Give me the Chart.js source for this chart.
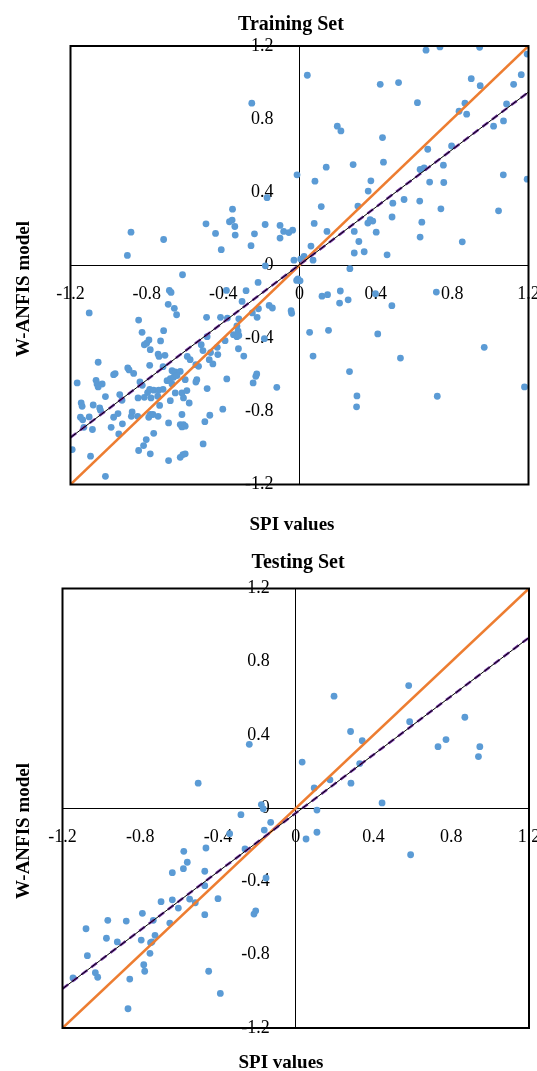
<!DOCTYPE html>
<html><head><meta charset="utf-8">
<script src="https://cdn.jsdelivr.net/npm/chart.js@4.4.1/dist/chart.umd.min.js"></script>
<style>
html,body{margin:0;padding:0;background:#fff;overflow:hidden;width:537px;height:1071px;}
.box{position:absolute;left:0;width:560px;}
</style></head><body>
<div class="box" style="top:0;height:540px"><canvas id="c1"></canvas></div>
<div class="box" style="top:540px;height:531px"><canvas id="c2"></canvas></div>
<script>
// ---- tick values / labels ----
const tickValues = [-1.2, -0.8, -0.4, 0, 0.4, 0.8, 1.2];
const tickLabels = ['-1.2', '-0.8', '-0.4', '0', '0.4', '0.8', '1.2'];

// ---- reference lines ----
const lineX = [-1.2, 1.2];
const trainIdeal = [-1.2, 1.2];
const trainFit = [-0.943, 0.948];
const testIdeal = [-1.2, 1.2];
const testFit = [-0.986, 0.932];

// ---- Training set: SPI values (x) vs W-ANFIS model (y) ----
const trainSpi = [
-0.25,-0.013,-0.17,-0.351,-0.49,-0.367,-0.353,-0.339,-0.44,-0.337,-0.18,-0.236,-0.102,-0.083,-0.056,-0.036,-0.102,-0.254,-0.41,-0.883,-0.712,-0.902,-0.029,-0.179,
0.663,0.736,0.944,1.193,0.041,0.423,0.519,0.9,0.947,1.162,1.122,0.618,0.867,0.836,0.876,1.085,0.198,0.217,1.017,1.069,0.435,0.797,0.672,0.281,0.14,0.44,0.632,0.653,0.754,1.068,1.193,0.081,0.374,0.682,0.756,0.36,0.114,0.306,0.489,0.548,0.63,0.741,1.043,0.077,0.37,0.384,0.358,0.485,0.641,0.144,0.287,0.402,0.311,0.632,0.853,0.06,0.287,0.339,0.459,0.024,0.006,0.071,
0.264,0.003,0.118,0.147,0.214,0.21,0.255,0.398,0.484,0.717,0.053,0.152,0.41,0.071,0.529,0.968,0.262,0.301,0.299,0.722,1.179,
-0.613,-0.682,-0.673,-0.688,-0.656,-0.644,-1.102,-0.843,-0.825,-0.712,-0.789,-0.813,-0.801,-0.728,-0.782,-0.741,-0.736,-0.705,-1.055,-0.785,-0.715,-0.9,-0.893,-0.966,-0.869,-0.668,-0.651,-0.625,
-0.015,-0.383,-0.28,-0.217,-0.301,-0.215,-0.159,-0.142,-0.044,-0.041,-0.247,-0.222,-0.487,-0.414,-0.378,-0.318,-0.328,-0.322,-0.346,-0.328,-0.318,-0.39,-0.484,-0.515,-0.506,-0.431,-0.428,-0.466,-0.473,-0.32,-0.292,-0.184,-0.588,-0.573,-0.543,-0.529,-0.454,-0.224,-0.008,
-0.974,-1.165,-1.066,-1.061,-1.034,-1.055,-1.017,-1.144,-1.139,-1.081,-1.047,-1.043,-1.148,-1.136,-1.102,-1.085,-1.13,-1.191,-1.095,-1.017,-0.987,-0.947,-0.928,-0.974,-0.951,-0.942,-0.93,-0.881,-0.848,-0.877,-0.836,-0.824,-0.846,-0.813,-0.796,-0.785,-0.764,-0.738,-0.715,-0.743,-0.778,-0.733,-0.782,-0.768,-0.741,-0.79,-0.686,-0.764,-0.803,-0.817,-0.843,-0.782,-0.686,-0.625,-0.611,-0.694,-0.677,-0.66,-0.642,-0.668,-0.651,-0.616,-0.608,-0.677,-0.616,-0.608,-0.625,-0.616,
-0.599,-0.538,-0.543,-0.381,-0.229,-0.243,-0.119,-0.59,-0.484,-0.578,-0.402,-0.47,-0.496,-0.599,-0.505,-0.599
];
const trainModel = [
0.887,0.495,0.37,0.307,0.227,0.238,0.247,0.212,0.174,0.165,0.223,0.172,0.218,0.185,0.179,0.192,0.149,0.107,0.085,0.181,0.141,0.054,0.028,-0.003,
1.177,1.195,1.193,1.156,1.04,0.99,1.0,1.021,0.983,1.043,0.99,0.89,0.887,0.843,0.827,0.883,0.761,0.735,0.761,0.79,0.699,0.653,0.635,0.551,0.537,0.564,0.524,0.533,0.548,0.495,0.471,0.46,0.462,0.455,0.453,0.406,0.321,0.324,0.34,0.36,0.351,0.309,0.298,0.229,0.25,0.242,0.231,0.264,0.236,0.185,0.185,0.181,0.13,0.154,0.128,0.105,0.067,0.074,0.057,0.048,0.034,0.028,
-0.019,-0.085,-0.169,-0.161,-0.141,-0.207,-0.189,-0.156,-0.221,-0.147,-0.367,-0.356,-0.376,-0.497,-0.508,-0.449,-0.582,-0.715,-0.775,-0.717,-0.666,
-0.052,-0.138,-0.149,-0.214,-0.236,-0.271,-0.261,-0.3,-0.367,-0.358,-0.409,-0.435,-0.427,-0.414,-0.462,-0.486,-0.499,-0.493,-0.531,-0.548,-0.555,-0.562,-0.573,-0.593,-0.592,-0.577,-0.584,-0.581,
-0.083,-0.138,-0.139,-0.094,-0.198,-0.238,-0.22,-0.234,-0.249,-0.263,-0.261,-0.285,-0.285,-0.285,-0.289,-0.293,-0.332,-0.36,-0.38,-0.391,-0.384,-0.413,-0.391,-0.435,-0.467,-0.449,-0.489,-0.478,-0.517,-0.457,-0.497,-0.402,-0.499,-0.517,-0.544,-0.553,-0.54,-0.595,-0.075,
-0.599,-0.644,-0.63,-0.65,-0.65,-0.666,-0.719,-0.754,-0.772,-0.765,-0.781,-0.794,-0.832,-0.846,-0.83,-0.899,-0.887,-1.009,-1.045,-1.155,-0.887,-0.923,-0.868,-0.832,-0.812,-0.708,-0.739,-0.827,-0.827,-0.803,-0.639,-0.657,-0.726,-0.723,-0.697,-0.679,-0.684,-0.684,-0.679,-0.717,-0.726,-0.767,-0.817,-0.817,-0.827,-0.832,-0.863,-0.92,-0.954,-0.987,-1.014,-1.032,-1.069,-1.051,-1.036,-0.632,-0.621,-0.613,-0.604,-0.65,-0.699,-0.699,-0.726,-0.741,-0.817,-0.872,-0.872,-0.885,
-0.626,-0.626,-0.639,-0.622,-0.608,-0.644,-0.668,-0.686,-0.675,-0.754,-0.788,-0.821,-0.856,-0.881,-0.978,-1.032
];

// ---- Testing set ----
const testSpi = [
0.581,0.197,0.586,0.87,0.282,0.342,0.732,0.773,0.947,0.94,0.033,0.329,0.176,0.095,0.284,0.444,0.109,-0.239,-0.502,-0.177,-0.167,
0.053,0.109,0.591,
-0.863,-0.388,-0.448,-1.146,-1.079,-1.072,-1.031,-1.019,-0.854,-0.782,-0.777,-0.75,-0.747,-0.74,-0.724,-0.795,-0.918,-0.974,-0.967,-0.872,-0.789,-0.733,-0.648,-0.693,-0.635,-0.604,-0.546,-0.517,-0.468,-0.4,-0.635,-0.576,-0.558,-0.578,-0.462,-0.468,-0.468,-0.34,-0.282,-0.261,-0.215,-0.206,-0.153,-0.162,-0.129
];
const testModel = [
0.67,0.612,0.473,0.497,0.419,0.369,0.336,0.375,0.336,0.282,0.252,0.244,0.155,0.111,0.137,0.029,-0.01,0.349,0.137,0.02,-0.003,
-0.168,-0.131,-0.254,
-1.095,-1.011,-0.89,-0.927,-0.658,-0.805,-0.898,-0.923,-0.933,-0.854,-0.89,-0.792,-0.734,-0.73,-0.694,-0.72,-0.73,-0.71,-0.612,-0.616,-0.574,-0.612,-0.627,-0.51,-0.5,-0.545,-0.496,-0.516,-0.581,-0.494,-0.352,-0.235,-0.295,-0.33,-0.217,-0.344,-0.423,-0.139,-0.035,-0.222,-0.578,-0.56,-0.381,-0.119,-0.077
];

const pts = (xs, ys) => xs.map((x, i) => ({x: x, y: ys[i]}));

const decor = {
  id: 'decor',
  afterDraw(chart, args, o) {
    const {ctx, chartArea: a} = chart;
    ctx.save();
    ctx.strokeStyle = '#000';
    ctx.lineWidth = 2;
    ctx.strokeRect(a.left, a.top, a.right - a.left, a.bottom - a.top);
    ctx.fillStyle = '#000';
    ctx.textAlign = 'center';
    ctx.textBaseline = 'alphabetic';
    ctx.font = 'bold 20px "Liberation Serif"';
    ctx.fillText(o.title, o.titleX, o.titleY);
    ctx.font = 'bold 19px "Liberation Serif"';
    ctx.fillText(o.xTitle, o.xTitleX, o.xTitleY);
    ctx.translate(o.yTitleX, o.yTitleY);
    ctx.rotate(-Math.PI / 2);
    ctx.fillText(o.yTitle, 0, 0);
    ctx.restore();
  }
};

function axis(pos, pad, showTicks, showBorder) {
  return {
    type: 'linear', min: -1.2, max: 1.2, position: pos,
    afterBuildTicks: s => { s.ticks = tickValues.map(v => ({value: v})); },
    ticks: {
      display: showTicks,
      callback: v => tickLabels[tickValues.indexOf(v)],
      font: {family: 'Liberation Serif', size: 18}, color: '#000',
      padding: pad, maxRotation: 0, autoSkip: false
    },
    grid: {display: false, drawTicks: false},
    border: {display: showBorder, color: '#000', width: 1}
  };
}

function makeChart(id, xs, ys, ideal, fit, padding, labelShift, deco) {
  const yLab = axis({x: labelShift}, 0, true, false);
  yLab.axis = 'y';
  new Chart(document.getElementById(id), {
    type: 'scatter',
    data: {
      datasets: [
        {type: 'line', data: pts(lineX, fit), borderColor: '#000', borderWidth: 1, pointRadius: 0, order: 1},
        {type: 'line', data: pts(lineX, fit), borderColor: '#7030A0', borderWidth: 2.5, borderDash: [7, 5], pointRadius: 0, order: 2},
        {type: 'line', data: pts(lineX, ideal), borderColor: '#ED7D31', borderWidth: 2.6, pointRadius: 0, order: 3},
        {type: 'scatter', data: pts(xs, ys), backgroundColor: '#5B9BD5', borderWidth: 0, pointRadius: 3.4, order: 4}
      ]
    },
    options: {
      responsive: true, maintainAspectRatio: false, animation: false, events: [],
      layout: {padding: padding},
      scales: {
        x: axis({y: 0}, 18, true, true),
        y: axis({x: 0}, 0, false, true),
        yLabels: yLab
      },
      plugins: {legend: {display: false}, tooltip: {enabled: false}, decor: deco}
    },
    plugins: [decor]
  });
}

makeChart('c1', trainSpi, trainModel, trainIdeal, trainFit,
  {left: 70.5, right: 31.5, top: 46, bottom: 55.5}, -0.136,
  {title: 'Training Set', titleX: 291, titleY: 30, xTitle: 'SPI values', xTitleX: 292, xTitleY: 530,
   yTitle: 'W-ANFIS model', yTitleX: 29, yTitleY: 289});
makeChart('c2', testSpi, testModel, testIdeal, testFit,
  {left: 62.5, right: 31, top: 48.5, bottom: 43}, -0.134,
  {title: 'Testing Set', titleX: 298, titleY: 28, xTitle: 'SPI values', xTitleX: 281, xTitleY: 528,
   yTitle: 'W-ANFIS model', yTitleX: 29, yTitleY: 291});
</script>
</body></html>
